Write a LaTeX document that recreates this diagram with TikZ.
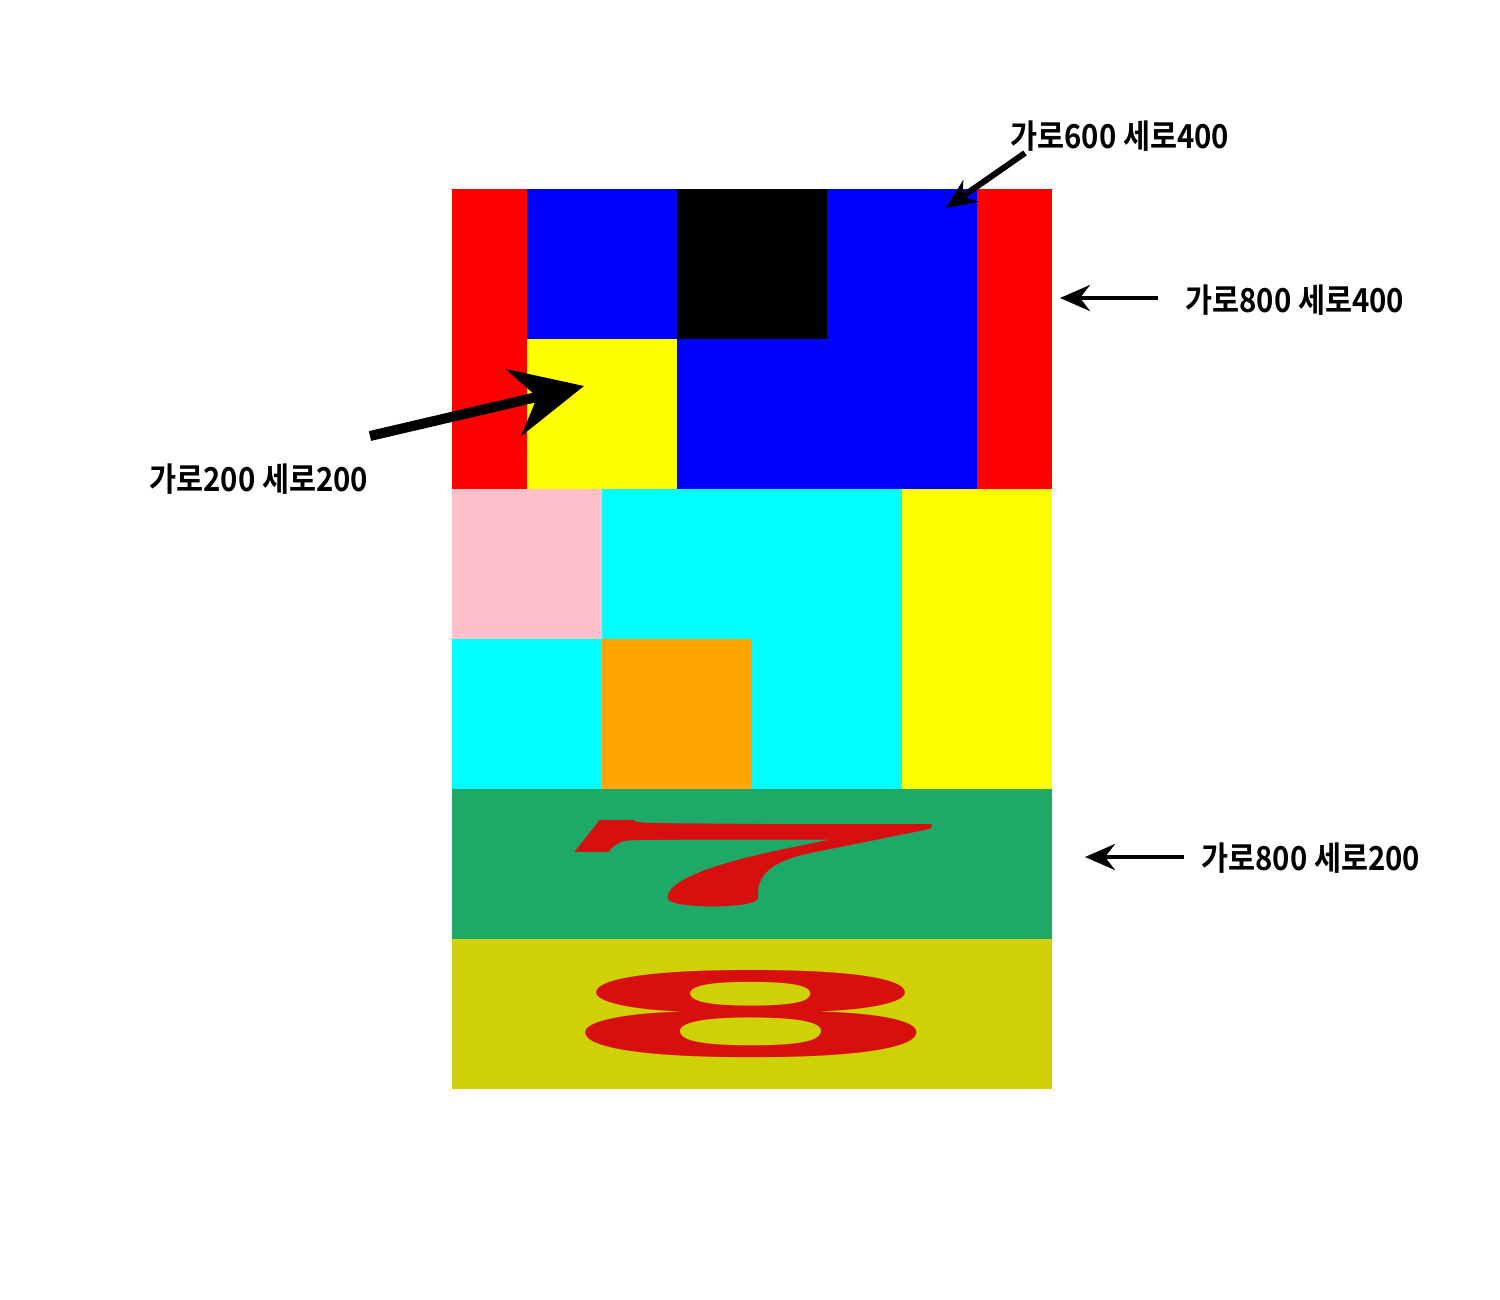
\documentclass[tikz,border=0pt]{standalone}
\usepackage{fontspec}
\newfontfamily\kfont{Noto Sans CJK KR Bold}
\newfontfamily\eightfont{Liberation Sans Bold}
\usetikzlibrary{arrows.meta}
\definecolor{cred}{RGB}{255,0,0}
\definecolor{cblue}{RGB}{0,0,255}
\definecolor{cyellow}{RGB}{255,255,0}
\definecolor{ccyan}{RGB}{0,255,255}
\definecolor{cpink}{RGB}{255,192,203}
\definecolor{corange}{RGB}{255,165,0}
\definecolor{cgreen}{RGB}{31,169,104}
\definecolor{colive}{RGB}{205,209,6}
\definecolor{cdigit}{RGB}{215,15,15}
\tikzset{
  lbl/.style={font=\kfont\fontsize{16.5pt}{18pt}\selectfont, inner sep=0pt, xscale=0.89, anchor=west},
  arr/.style={draw=black, line width=2pt, -{Stealth[length=15pt,width=13pt,inset=5pt]}},
  digit/.style={inner sep=0pt, text=cdigit},
}
\begin{document}
\begin{tikzpicture}[x=0.5pt,y=-0.5pt]
\useasboundingbox[fill=white] (0,0) rectangle (1500,1300);
% top block
\fill[cred] (452,189) rectangle (527,489);
\fill[cred] (977,189) rectangle (1052,489);
\fill[cblue] (527,189) rectangle (677,339);
\fill[black] (677,189) rectangle (827,339);
\fill[cblue] (827,189) rectangle (977,339);
\fill[cyellow] (527,339) rectangle (677,489);
\fill[cblue] (677,339) rectangle (977,489);
% middle block
\fill[cpink] (452,489) rectangle (602,639);
\fill[ccyan] (602,489) rectangle (902,639);
\fill[cyellow] (902,489) rectangle (1052,789);
\fill[ccyan] (452,639) rectangle (602,789);
\fill[corange] (602,639) rectangle (752,789);
\fill[ccyan] (752,639) rectangle (902,789);
% bottom blocks
\fill[cgreen] (452,789) rectangle (1052,939);
\fill[colive] (452,939) rectangle (1052,1089);
\node[digit, anchor=north west] (seven) at (528,820) {\resizebox{208pt}{42.5pt}{\bfseries 7}};
\node[digit, anchor=north west] (eight) at (564,970) {\resizebox{186pt}{43pt}{\eightfont 8}};
% labels
\node[lbl] (l1) at (1010,136) {가로600 세로400};
\node[lbl] (l2) at (1185,300) {가로800 세로400};
\node[lbl] (l3) at (149,479) {가로200 세로200};
\node[lbl] (l4) at (1201,858) {가로800 세로200};
% arrow ends
\coordinate (a1s) at (1025,153);
\coordinate (a1e) at (946,208);
\coordinate (a2s) at (1158,298);
\coordinate (a2e) at (1060,298);
\coordinate (a3s) at (370,436);
\coordinate (a3e) at (584,386);
\coordinate (a4s) at (1184,857);
\coordinate (a4e) at (1085,857);
\draw[arr, line width=3pt] (a1s) -- (a1e);
\draw[arr] (a2s) -- (a2e);
\draw[arr, line width=5pt, -{Stealth[length=36pt,width=34pt,inset=12pt]}] (a3s) -- (a3e);
\draw[arr] (a4s) -- (a4e);
\end{tikzpicture}
\end{document}
